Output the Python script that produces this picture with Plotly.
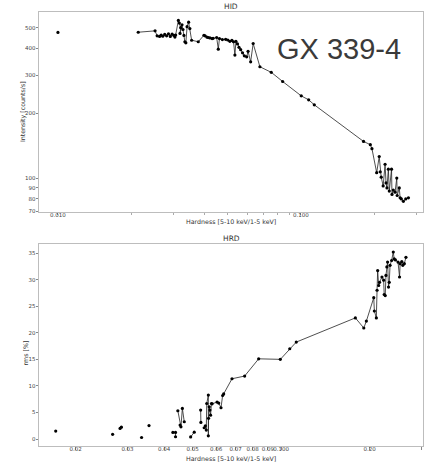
import plotly.graph_objects as go

# ---------------- HID data (hardness vs intensity) ----------------
hid_hardness = [0.0100, None,
                0.0214, 0.0251, 0.0256, 0.0262, 0.0266, 0.0270, 0.0275, 0.0280, 0.0285, 0.0290,
                0.0295, 0.0300, 0.0303, 0.0305, 0.0313, 0.0316, 0.0320, 0.0318, 0.0324, 0.0327,
                0.0330, 0.0333, 0.0336, 0.0340, 0.0345, 0.0349, 0.0355, 0.0378, 0.0399, 0.0410,
                0.0431, 0.0403, 0.0415, 0.0422, 0.0435, 0.0450, 0.0457, 0.0462, 0.0475, 0.0490,
                0.0500, 0.0510, 0.0520, 0.0528, 0.0535, 0.0540, 0.0548, 0.0556, 0.0565, 0.0575,
                0.0585, 0.0598, 0.0606, 0.0621, 0.0636, 0.0678, 0.0755, 0.0841, 0.1003, 0.1076,
                0.1135, 0.181, 0.193, 0.196, 0.205, 0.210, 0.212, 0.214, 0.218, 0.222,
                0.224, 0.226, 0.229, 0.231, 0.236, 0.237, 0.240, 0.244, 0.248, 0.249,
                0.254, 0.256, 0.259, 0.264, 0.270, 0.277]
hid_intensity = [475, None,
                 476, 483, 458, 455, 462, 456, 465, 458, 468, 455,
                 466, 460, 452, 462, 540, 525, 500, 470, 515, 490,
                 460, 430, 425, 505, 530, 495, 437, 430, 461, 452,
                 445, 458, 450, 448, 446, 450, 397, 445, 440, 441,
                 438, 432, 436, 430, 373, 432, 420, 405, 395, 382,
                 370, 366, 388, 347, 422, 329, 310, 281, 241, 231,
                 219, 148, 143, 137, 106, 126, 107, 101, 92, 116,
                 95, 90, 110, 87, 110, 84, 88, 86, 100, 83,
                 90, 81, 80, 78, 80, 81]

# ---------------- HRD data (hardness vs rms) ----------------
hrd_hardness = [0.0171, None, 0.0267, None, 0.0283, 0.0286, None, 0.0335, None, 0.0355, None,
                0.0428, 0.0437, 0.0437, None,
                0.0445, 0.0453, 0.0456, 0.0461, 0.0468, None,
                0.0492, 0.0506, None, 0.0532, 0.0533, None,
                0.0547, 0.0552, 0.0556, 0.0558, 0.0565, 0.0565, 0.0566, 0.0569, 0.0572, 0.0575,
                0.0579, 0.0582, 0.0605, 0.0613, 0.0624, 0.0632, 0.0637, 0.0680, 0.0751, 0.0838,
                0.0993, 0.1069, 0.1125, 0.1787, 0.1909, 0.1948, 0.2064, 0.2074, 0.2106, 0.2118,
                0.2128, 0.2145, 0.2160, 0.2201, 0.2230, 0.2240, 0.2258, 0.2271, 0.2287, 0.2300,
                0.2317, 0.2330, 0.2345, 0.2374, 0.2405, 0.2422, 0.2446, 0.2496, 0.2526, 0.2538,
                0.2571, 0.2591, 0.2622, 0.2656]
hrd_rms = [1.5, None, 0.9, None, 2.0, 2.25, None, 0.3, None, 2.55, None,
           1.26, 1.26, 0.44, None,
           5.33, 2.63, 2.3, 5.77, 3.26, None,
           0.4, 1.3, None, 5.46, 3.14, None,
           2.13, 2.5, 1.7, 6.7, 8.28, 0.62, 3.9, 6.08, 5.46, 4.5,
           6.7, 6.64, 6.96, 6.77, 5.9, 8.2, 8.5, 11.35, 11.86, 15.1,
           15.0, 17.0, 18.25, 22.8, 20.9, 22.2, 26.6, 24.1, 22.8, 28.0,
           31.7, 28.9, 29.5, 30.5, 29.9, 27.2, 27.0, 30.8, 32.4, 33.3,
           28.6, 29.5, 32.7, 33.6, 35.2, 33.9, 33.7, 33.3, 30.5, 33.0,
           33.4, 32.7, 33.0, 34.2]

# ---------------- tick labels ----------------
hid_x_major = [0.01, 0.1]
hid_x_major_text = ["0.010", "0.100"]
hid_x_minor = [0.02, 0.03, 0.04, 0.05, 0.06, 0.07, 0.08, 0.09, 0.2, 0.3]
hid_y_ticks = [70, 80, 90, 100, 200, 300, 400, 500]
hid_y_text = ["70", "80", "90", "100", "200", "300", "400", "500"]
hrd_x_ticks = [0.02, 0.03, 0.04, 0.05, 0.06, 0.07, 0.08, 0.09, 0.1, 0.2, 0.3]
hrd_x_text = ["0.02", "0.03", "0.04", "0.05", "0.06", "0.07", "0.08", "0.09", "0.100", "0.20", "0.30"]
hrd_y_ticks = [0, 5, 10, 15, 20, 25, 30, 35]

FONT = "DejaVu Sans"
FRAME = "#bdbdbd"
TICKFONT = dict(family=FONT, size=5.5, color="#444444")

fig = go.Figure()
fig.add_trace(go.Scatter(x=hid_hardness, y=hid_intensity, mode="lines+markers",
                         line=dict(color="#222222", width=0.8),
                         marker=dict(color="black", size=3.2),
                         connectgaps=False, xaxis="x", yaxis="y", showlegend=False))
fig.add_trace(go.Scatter(x=hrd_hardness, y=hrd_rms, mode="lines+markers",
                         line=dict(color="#222222", width=0.8),
                         marker=dict(color="black", size=3.2),
                         connectgaps=False, xaxis="x2", yaxis="y2", showlegend=False))

axis_common = dict(showline=True, linecolor=FRAME, linewidth=1, mirror=True,
                   showgrid=False, zeroline=False, ticks="outside", ticklen=2.5,
                   tickcolor="#888888", tickwidth=0.8, tickfont=TICKFONT, tickangle=0)

fig.update_layout(
    width=425, height=464,
    margin=dict(l=39, r=2, t=12, b=18),
    plot_bgcolor="white", paper_bgcolor="white",
    xaxis=dict(type="log", range=[-2.078, -0.4976], domain=[0, 1], anchor="y",
               tickmode="array", tickvals=hid_x_major, ticktext=hid_x_major_text,
               ticklabelstandoff=-5,
               minor=dict(tickmode="array", tickvals=hid_x_minor, ticks="outside",
                          ticklen=2, tickcolor="#aaaaaa", tickwidth=0.6),
               **axis_common),
    yaxis=dict(type="log", range=[1.8426, 2.7716], domain=[0.5392, 1], anchor="x",
               tickmode="array", tickvals=hid_y_ticks, ticktext=hid_y_text,
               ticklabelstandoff=-1,
               **axis_common),
    xaxis2=dict(type="log", range=[-1.8239, -0.5178], domain=[0, 1], anchor="y2",
                tickmode="array", tickvals=hrd_x_ticks, ticktext=hrd_x_text,
                ticklabelstandoff=-5,
                **axis_common),
    yaxis2=dict(range=[-1.3, 36.7], domain=[0, 0.4654], anchor="x2",
                tickmode="array", tickvals=hrd_y_ticks,
                ticklabelstandoff=-1,
                **axis_common),
)

ann_font = dict(family=FONT, size=6.3, color="#333333")
annotations = [
    dict(text="HID", x=0.5, y=1.0138, xref="paper", yref="paper", showarrow=False,
         xanchor="center", yanchor="middle", font=dict(family=FONT, size=7.5, color="#333333")),
    dict(text="HRD", x=0.5, y=0.477, xref="paper", yref="paper", showarrow=False,
         xanchor="center", yanchor="middle", font=dict(family=FONT, size=7.5, color="#333333")),
    dict(text="Hardness [5-10 keV/1-5 keV]", x=0.5, y=0.5175, xref="paper", yref="paper",
         showarrow=False, xanchor="center", yanchor="middle", font=ann_font),
    dict(text="Hardness [5-10 keV/1-5 keV]", x=0.5, y=-0.0293, xref="paper", yref="paper",
         showarrow=False, xanchor="center", yanchor="middle", font=ann_font),
    dict(text="Intensity [counts/s]", x=-0.0409, y=0.77, xref="paper", yref="paper",
         showarrow=False, xanchor="center", yanchor="middle", textangle=-90, font=ann_font),
    dict(text="rms [%]", x=-0.0346, y=0.215, xref="paper", yref="paper",
         showarrow=False, xanchor="center", yanchor="middle", textangle=-90, font=ann_font),
    dict(text="GX 339-4", x=0.78, y=0.9147, xref="paper", yref="paper", showarrow=False,
         xanchor="center", yanchor="middle",
         font=dict(family="Liberation Sans", size=29, color="#3a3a3a")),
]
fig.update_layout(annotations=annotations)

fig.write_html("out.html")
